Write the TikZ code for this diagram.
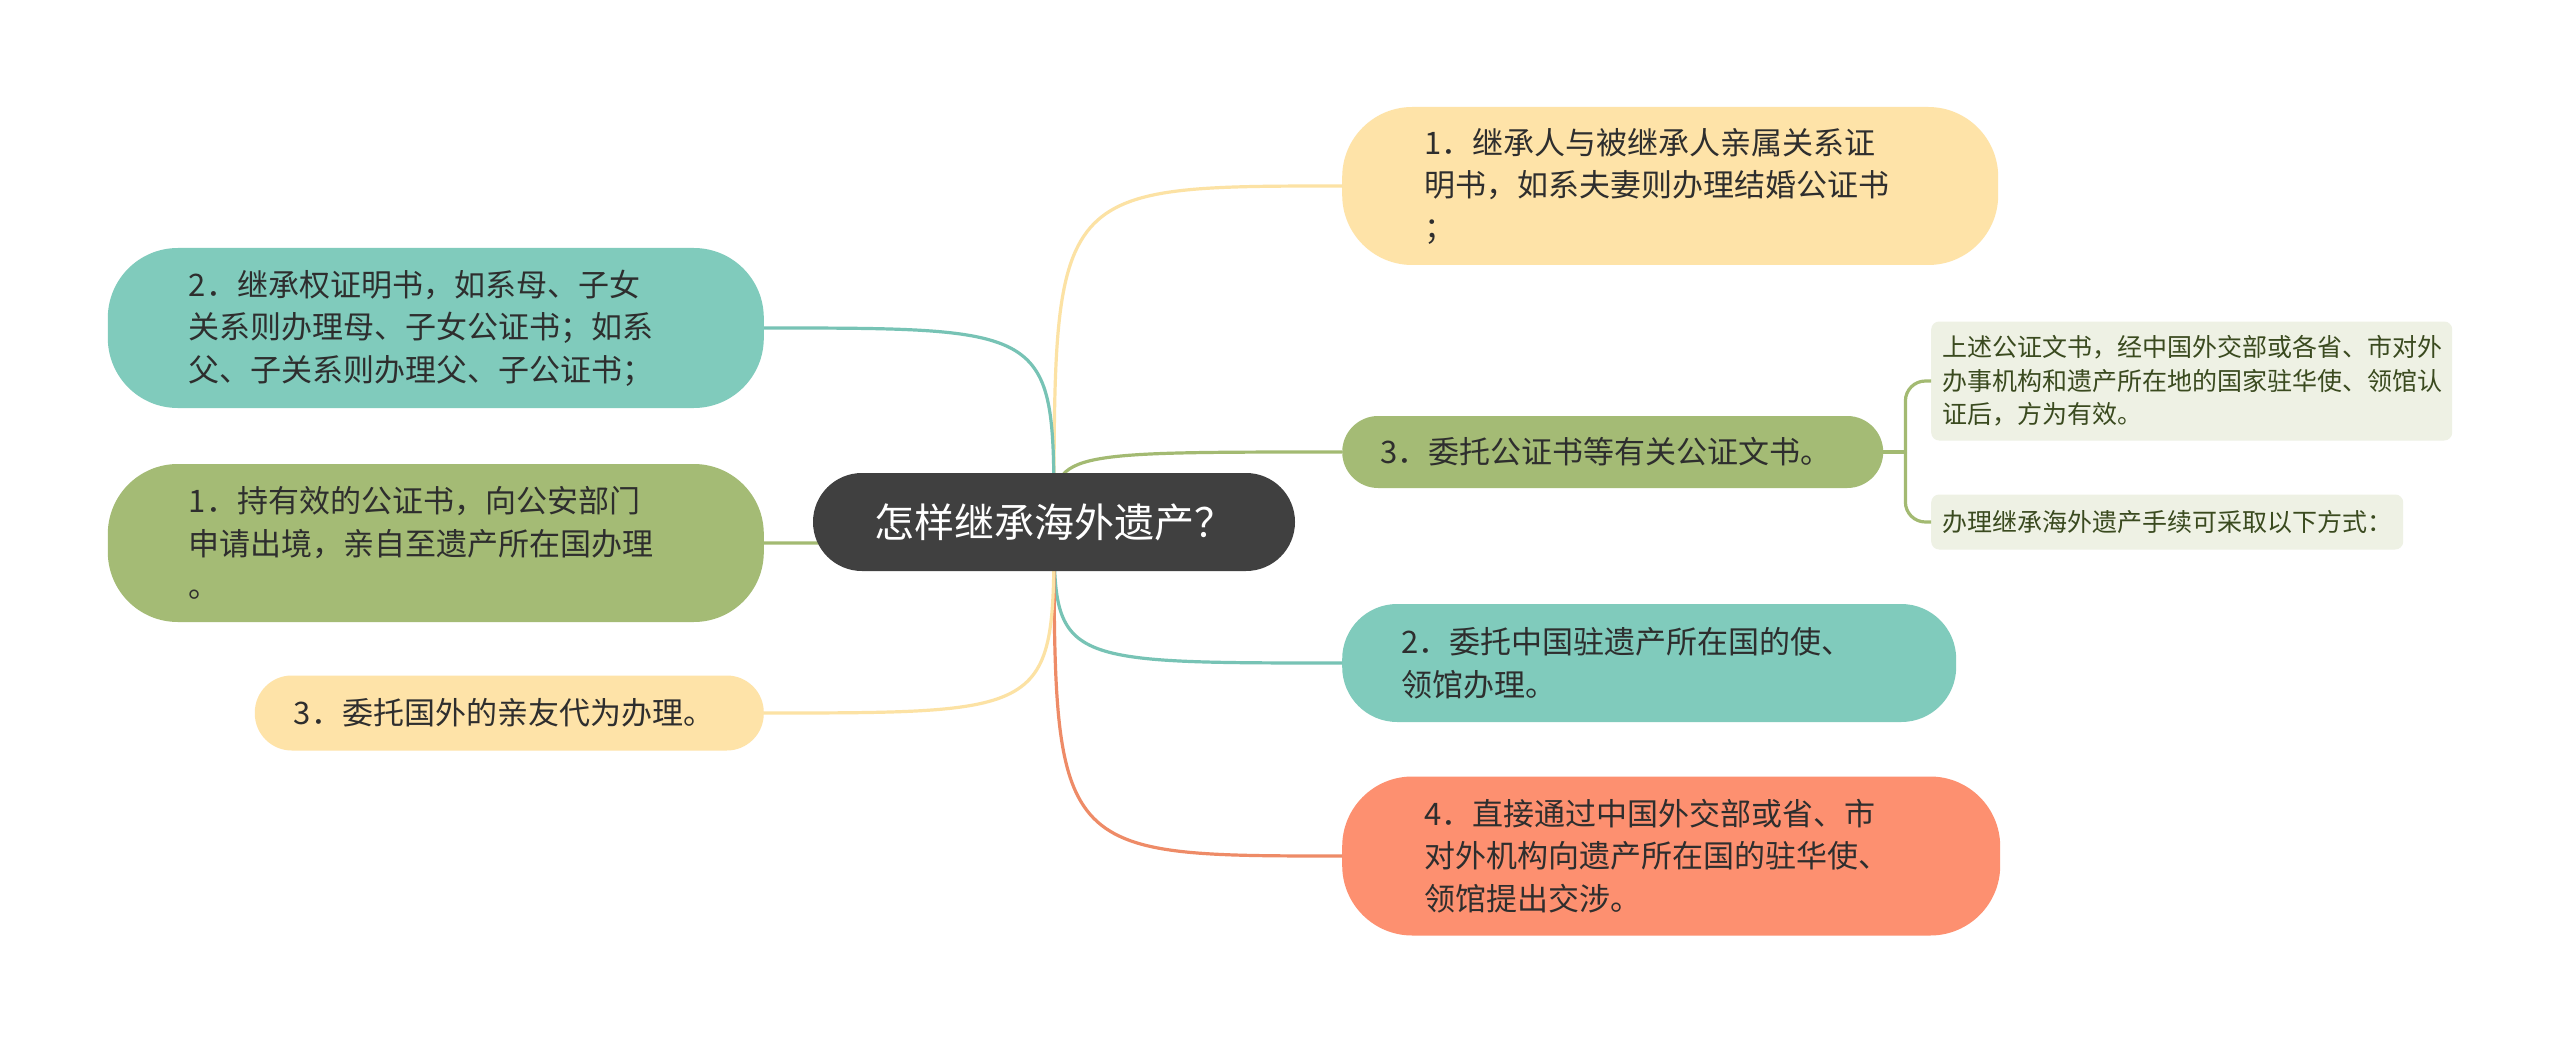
\documentclass[tikz,border=0pt]{standalone}
\usepackage{fontspec}
\setmainfont{Noto Sans CJK SC}
\usepackage{xcolor}
\usepackage{tikz}
\usetikzlibrary{positioning}

\definecolor{raiz}{HTML}{404040}
\definecolor{amarillo}{HTML}{FEE3A8}
\definecolor{amarillolinea}{HTML}{FCE2A4}
\definecolor{turquesa}{HTML}{80CBBC}
\definecolor{turquesalinea}{HTML}{77C3B5}
\definecolor{oliva}{HTML}{A4BB75}
\definecolor{olivalinea}{HTML}{A3BA72}
\definecolor{naranja}{HTML}{FD9070}
\definecolor{naranjalinea}{HTML}{EE8B67}
\definecolor{detalle}{HTML}{EEF1E4}
\definecolor{textodetalle}{HTML}{3A4A1F}
\definecolor{texto}{HTML}{2E2E2E}

\begin{document}
\begin{tikzpicture}[x=1pt, y=-1pt,
  tema/.style={align=left, text=texto, inner ysep=0pt,
    font=\fontsize{31}{42.5}\selectfont},
  nota/.style={align=left, text=textodetalle, fill=detalle, rounded corners=8pt,
    inner ysep=0pt, inner xsep=11pt, font=\fontsize{25}{33.5}\selectfont},
  rama/.style={line width=3.2pt}]
\useasboundingbox[fill=white] (0,0) rectangle (2560,1043);

% Nodos
\coordinate (c) at (1054,522);
\node[tema, anchor=west, fill=amarillo, rounded corners=70pt, inner xsep=82pt,
  text width=492pt, minimum height=158pt] (r1) at (1342,186)
  {1．继承人与被继承人亲属关系证\\明书，如系夫妻则办理结婚公证书\\；};
\node[tema, anchor=west, fill=oliva, rounded corners=36pt, inner xsep=38pt,
  text width=465pt, minimum height=72pt] (r3) at (1342,452)
  {3．委托公证书等有关公证文书。};
\node[tema, anchor=west, fill=turquesa, rounded corners=55pt, inner xsep=59pt,
  text width=496pt, minimum height=118pt] (r2) at (1342,663)
  {2．委托中国驻遗产所在国的使、\\领馆办理。};
\node[tema, anchor=west, fill=naranja, rounded corners=70pt, inner xsep=82pt,
  text width=494pt, minimum height=159pt] (r4) at (1342,856)
  {4．直接通过中国外交部或省、市\\对外机构向遗产所在国的驻华使、\\领馆提出交涉。};
\node[nota, anchor=west, text width=499pt, minimum height=119pt] (da) at (1931,381)
  {上述公证文书，经中国外交部或各省、市对外\\办事机构和遗产所在地的国家驻华使、领馆认\\证后，方为有效。};
\node[nota, anchor=west, text width=450pt, minimum height=55pt] (db) at (1931,522)
  {办理继承海外遗产手续可采取以下方式：};
\node[tema, anchor=east, fill=turquesa, rounded corners=70pt, inner xsep=81pt,
  text width=494pt, minimum height=160pt] (l2) at (764,328)
  {2．继承权证明书，如系母、子女\\关系则办理母、子女公证书；如系\\父、子关系则办理父、子公证书；};
\node[tema, anchor=east, fill=oliva, rounded corners=70pt, inner xsep=81pt,
  text width=494pt, minimum height=158pt] (l1) at (764,543)
  {1．持有效的公证书，向公安部门\\申请出境，亲自至遗产所在国办理\\。};
\node[tema, anchor=east, fill=amarillo, rounded corners=37pt, inner xsep=39pt,
  text width=431pt, minimum height=75pt] (l3) at (764,713)
  {3．委托国外的亲友代为办理。};

% Conexiones
\draw[rama, amarillolinea] (c) .. controls (c |- r1.west) .. (r1.west);
\draw[rama, olivalinea] (c) .. controls (c |- r3.west) .. (r3.west);
\draw[rama, turquesalinea] (c) .. controls (c |- r2.west) .. (r2.west);
\draw[rama, naranjalinea] (c) .. controls (c |- r4.west) .. (r4.west);
\draw[rama, turquesalinea] (c) .. controls (c |- l2.east) .. (l2.east);
\draw[rama, olivalinea] (c) .. controls (c |- l1.east) .. (l1.east);
\draw[rama, amarillolinea] (c) .. controls (c |- l3.east) .. (l3.east);
\draw[rama, olivalinea] (r3.east) -- ++(22,0) coordinate (codo);
\draw[rama, olivalinea, rounded corners=20pt] (codo) |- (da.west);
\draw[rama, olivalinea, rounded corners=20pt] (codo) |- (db.west);

% Raiz
\node[fill=raiz, text=white, rounded corners=49pt, minimum width=482pt,
  minimum height=98pt, font=\fontsize{40}{48}\selectfont] (root) at (c)
  {怎样继承海外遗产？};
\end{tikzpicture}
\end{document}
